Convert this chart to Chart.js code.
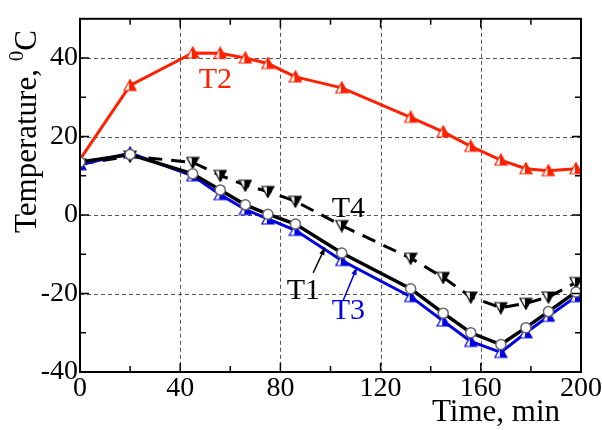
<!DOCTYPE html>
<html>
<head>
<meta charset="utf-8">
<script src="https://cdn.jsdelivr.net/npm/chart.js@4/dist/chart.umd.min.js"></script>
<style>
  html, body { margin: 0; padding: 0; background: #fff; }
  #chart { display: block; }
</style>
</head>
<body>
<canvas id="chart" width="602" height="430"></canvas>
<script>
const times = [0, 20, 45, 56, 66, 75, 86, 104.5, 132, 145, 156, 168, 178, 187, 198];
const t1 = [13.5, 15.4, 10.5, 6.4, 2.6, 0.2, -2.3, -9.7, -18.8, -25, -30, -33, -28.7, -24.6, -19.6];
const t2 = [14.2, 33, 41.3, 41.2, 40, 38.6, 35.2, 32.4, 24.9, 21.2, 17.5, 14, 11.8, 11.3, 11.8];
const t3 = [12.8, 15.8, 10.0, 5.2, 1.4, -1.0, -3.9, -11.6, -20.8, -27, -32.2, -35, -30, -25.8, -20.8];
const t4 = [13, 15, 13.4, 10.1, 7.6, 6.0, 3.5, -2.7, -11, -15.9, -20.9, -23.6, -22.5, -20.9, -17.2];

const xTicks = [0, 40, 80, 120, 160, 200];
const yTicks = [-40, -20, 0, 20, 40];
const xMinor = [20, 60, 100, 140, 180];
const yMinor = [-30, -10, 10, 30];

const SERIF = '"Liberation Serif", "Times New Roman", serif';

const pts = arr => arr.map((v, i) => ({ x: times[i], y: v }));

// triangle à moitié rempli (marqueurs de la figure)
function halfTri(color, down) {
  const s = 14;
  const c = document.createElement('canvas');
  c.width = s; c.height = s;
  const g = c.getContext('2d');
  const path = () => {
    g.beginPath();
    if (down) { g.moveTo(1, 2); g.lineTo(s - 1, 2); g.lineTo(s / 2, s - 1); }
    else { g.moveTo(s / 2, 1); g.lineTo(s - 1, s - 2); g.lineTo(1, s - 2); }
    g.closePath();
  };
  path(); g.fillStyle = '#fff'; g.fill();
  g.save(); g.beginPath(); g.rect(s / 2 - 1, 0, s, s); g.clip();
  path(); g.fillStyle = color; g.fill(); g.restore();
  path(); g.strokeStyle = color; g.lineWidth = 1.2; g.stroke();
  return c;
}

const decor = {
  id: 'decor',
  beforeDatasetsDraw(chart) {
    const { ctx, chartArea: a, scales: { x, y } } = chart;
    ctx.save();
    ctx.strokeStyle = '#555';
    ctx.lineWidth = 1;
    ctx.setLineDash([4, 3]);
    xTicks.slice(1, -1).forEach(v => {
      const px = Math.round(x.getPixelForValue(v)) + 0.5;
      ctx.beginPath(); ctx.moveTo(px, a.top); ctx.lineTo(px, a.bottom); ctx.stroke();
    });
    yTicks.slice(1).forEach(v => {
      const py = Math.round(y.getPixelForValue(v)) + 0.5;
      ctx.beginPath(); ctx.moveTo(a.left, py); ctx.lineTo(a.right, py); ctx.stroke();
    });
    ctx.restore();
  },
  afterDraw(chart) {
    const { ctx, chartArea: a, scales: { x, y } } = chart;
    ctx.save();
    // cadre
    ctx.strokeStyle = '#000';
    ctx.lineWidth = 2;
    ctx.strokeRect(a.left, a.top, a.right - a.left, a.bottom - a.top);
    // graduations intérieures
    ctx.lineWidth = 1.5;
    const tick = (vals, len) => {
      vals.forEach(v => {
        const px = x.getPixelForValue(v);
        ctx.beginPath();
        ctx.moveTo(px, a.bottom); ctx.lineTo(px, a.bottom - len);
        ctx.moveTo(px, a.top); ctx.lineTo(px, a.top + len);
        ctx.stroke();
      });
    };
    const tickY = (vals, len) => {
      vals.forEach(v => {
        const py = y.getPixelForValue(v);
        ctx.beginPath();
        ctx.moveTo(a.left, py); ctx.lineTo(a.left + len, py);
        ctx.moveTo(a.right, py); ctx.lineTo(a.right - len, py);
        ctx.stroke();
      });
    };
    tick(xTicks, 9); tick(xMinor, 6);
    tickY(yTicks, 9); tickY(yMinor, 6);

    // étiquettes des courbes
    ctx.font = '30px ' + SERIF;
    ctx.textBaseline = 'alphabetic';
    const label = (txt, vx, vy, color) => {
      ctx.fillStyle = color;
      ctx.fillText(txt, x.getPixelForValue(vx), y.getPixelForValue(vy));
    };
    label('T2', 47.4, 32.3, '#ff2000');
    label('T4', 100.5, -0.6, '#000');
    label('T1', 82.5, -21.4, '#000');
    label('T3', 100.5, -26.6, '#0000e0');

    const arrow = (x0, y0, x1, y1, color) => {
      const ax = x.getPixelForValue(x0), ay = y.getPixelForValue(y0);
      const bx = x.getPixelForValue(x1), by = y.getPixelForValue(y1);
      const ang = Math.atan2(by - ay, bx - ax);
      ctx.strokeStyle = color; ctx.fillStyle = color; ctx.lineWidth = 1.5;
      ctx.beginPath(); ctx.moveTo(ax, ay); ctx.lineTo(bx, by); ctx.stroke();
      ctx.beginPath();
      ctx.moveTo(bx, by);
      ctx.lineTo(bx - 8 * Math.cos(ang - 0.35), by - 8 * Math.sin(ang - 0.35));
      ctx.lineTo(bx - 8 * Math.cos(ang + 0.35), by - 8 * Math.sin(ang + 0.35));
      ctx.closePath(); ctx.fill();
    };
    arrow(93.1, -14.7, 97.8, -8.3, '#000');
    arrow(105.1, -21.7, 110.5, -13.4, '#0000e0');

    // titres des axes
    ctx.fillStyle = '#000';
    ctx.font = '31px ' + SERIF;
    ctx.textAlign = 'left';
    ctx.fillText('Time, min', 432, 421);

    ctx.translate(36, 233);
    ctx.rotate(-Math.PI / 2);
    const base = 'Temperature, ';
    ctx.fillText(base, 0, 0);
    let w = ctx.measureText(base).width;
    ctx.font = '21px ' + SERIF;
    ctx.fillText('0', w, -13);
    w += ctx.measureText('0').width;
    ctx.font = '31px ' + SERIF;
    ctx.fillText('C', w, 0);
    ctx.restore();
  }
};

new Chart(document.getElementById('chart'), {
  type: 'line',
  data: {
    datasets: [
      {
        label: 'T1', data: pts(t1), order: 1,
        borderColor: '#000', borderWidth: 3.5,
        pointStyle: 'circle', pointRadius: 5, pointBorderWidth: 1.5,
        pointBackgroundColor: '#fff', pointBorderColor: '#666'
      },
      {
        label: 'T3', data: pts(t3), order: 2,
        borderColor: '#0000e0', borderWidth: 3,
        pointStyle: halfTri('#0000e0', false), pointRadius: 7
      },
      {
        label: 'T4', data: pts(t4), order: 3,
        borderColor: '#000', borderWidth: 3, borderDash: [14, 9],
        pointStyle: halfTri('#000', true), pointRadius: 7
      },
      {
        label: 'T2', data: pts(t2), order: 4,
        borderColor: '#ff2000', borderWidth: 3,
        pointStyle: halfTri('#ff2000', false), pointRadius: 7
      }
    ]
  },
  options: {
    responsive: false,
    animation: false,
    layout: { padding: { left: 0, right: 21, top: 8, bottom: 0 } },
    plugins: { legend: { display: false }, tooltip: { enabled: false } },
    elements: { line: { tension: 0 } },
    scales: {
      x: {
        type: 'linear', min: 0, max: 200,
        afterBuildTicks: s => { s.ticks = xTicks.map(v => ({ value: v })); },
        afterFit: s => { s.height = 58; },
        grid: { display: false, drawTicks: false },
        border: { display: false },
        ticks: { color: '#000', padding: 0, maxRotation: 0, font: { family: SERIF, size: 28 } }
      },
      y: {
        type: 'linear', min: -40, max: 50,
        afterBuildTicks: s => { s.ticks = yTicks.map(v => ({ value: v })); },
        afterFit: s => { s.width = 80; },
        grid: { display: false, drawTicks: false },
        border: { display: false },
        ticks: { color: '#000', padding: 2, font: { family: SERIF, size: 28 } }
      }
    }
  },
  plugins: [decor]
});
</script>
</body>
</html>
